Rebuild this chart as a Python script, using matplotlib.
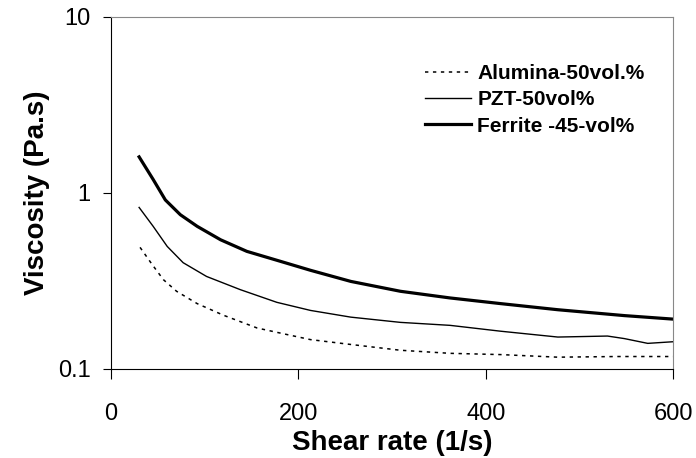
import matplotlib
matplotlib.use("Agg")
import matplotlib.pyplot as plt

plt.rcParams['font.family'] = ['Liberation Sans', 'DejaVu Sans']

# values
alumina_x = [31, 44, 56, 70, 92, 120, 156, 188, 213, 256, 309, 362, 416, 477, 540, 600]
alumina_y = [0.489, 0.39, 0.32, 0.275, 0.234, 0.201, 0.170, 0.156, 0.146, 0.137,
             0.127, 0.122, 0.120, 0.116, 0.117, 0.117]

pzt_x = [30, 45, 60, 77, 102, 138, 177, 213, 256, 309, 362, 416, 477, 530, 548, 573, 600]
pzt_y = [0.825, 0.644, 0.495, 0.40, 0.334, 0.281, 0.238, 0.214, 0.196, 0.183,
         0.176, 0.163, 0.151, 0.153, 0.148, 0.139, 0.142]

ferrite_x = [30, 45, 58, 74, 92, 117, 145, 181, 213, 256, 309, 362, 416, 477, 548, 600]
ferrite_y = [1.60, 1.19, 0.91, 0.75, 0.644, 0.54, 0.464, 0.407, 0.362, 0.313,
             0.275, 0.252, 0.234, 0.216, 0.200, 0.191]

labels = ["Alumina-50vol.%", "PZT-50vol%", "Ferrite -45-vol%"]
x_ticks = [0, 200, 400, 600]
y_ticks = [0.1, 1, 10]
y_tick_labels = ["0.1", "1", "10"]

fig = plt.figure(figsize=(6.96, 4.58), dpi=100)
ax = fig.add_axes([0.1595, 0.1954, 0.8075, 0.7675])

ax.plot(alumina_x, alumina_y, color='black', lw=1.1, linestyle=(0, (2.2, 3)), label=labels[0])
ax.plot(pzt_x, pzt_y, color='black', lw=1.0, label=labels[1])
ax.plot(ferrite_x, ferrite_y, color='black', lw=2.3, label=labels[2])

ax.set_yscale('log')
ax.set_xlim(0, 600)
ax.set_ylim(0.1, 10)
ax.set_xticks(x_ticks)
ax.set_xticklabels([str(t) for t in x_ticks])
ax.set_yticks(y_ticks)
ax.set_yticklabels(y_tick_labels)
ax.minorticks_off()
ax.tick_params(axis='x', direction='out', length=7.5, width=0.8, labelsize=17, pad=17)
ax.tick_params(axis='y', direction='out', length=5.5, width=0.8, labelsize=17, pad=9)

for s in ['top', 'right']:
    ax.spines[s].set_color('#888888')
for s in ['left', 'bottom']:
    ax.spines[s].set_color('black')

ax.set_xlabel('Shear rate (1/s)', fontsize=20, fontweight='bold', labelpad=4)
ax.set_ylabel('Viscosity (Pa.s)', fontsize=20, fontweight='bold', labelpad=6)

ax.legend(loc='upper left', bbox_to_anchor=(0.559, 0.866), frameon=False,
          prop={'weight': 'bold', 'size': 15}, borderpad=0, borderaxespad=0,
          handlelength=2.2, handletextpad=0.3, labelspacing=0.35)

fig.savefig('out.png', dpi=100)
